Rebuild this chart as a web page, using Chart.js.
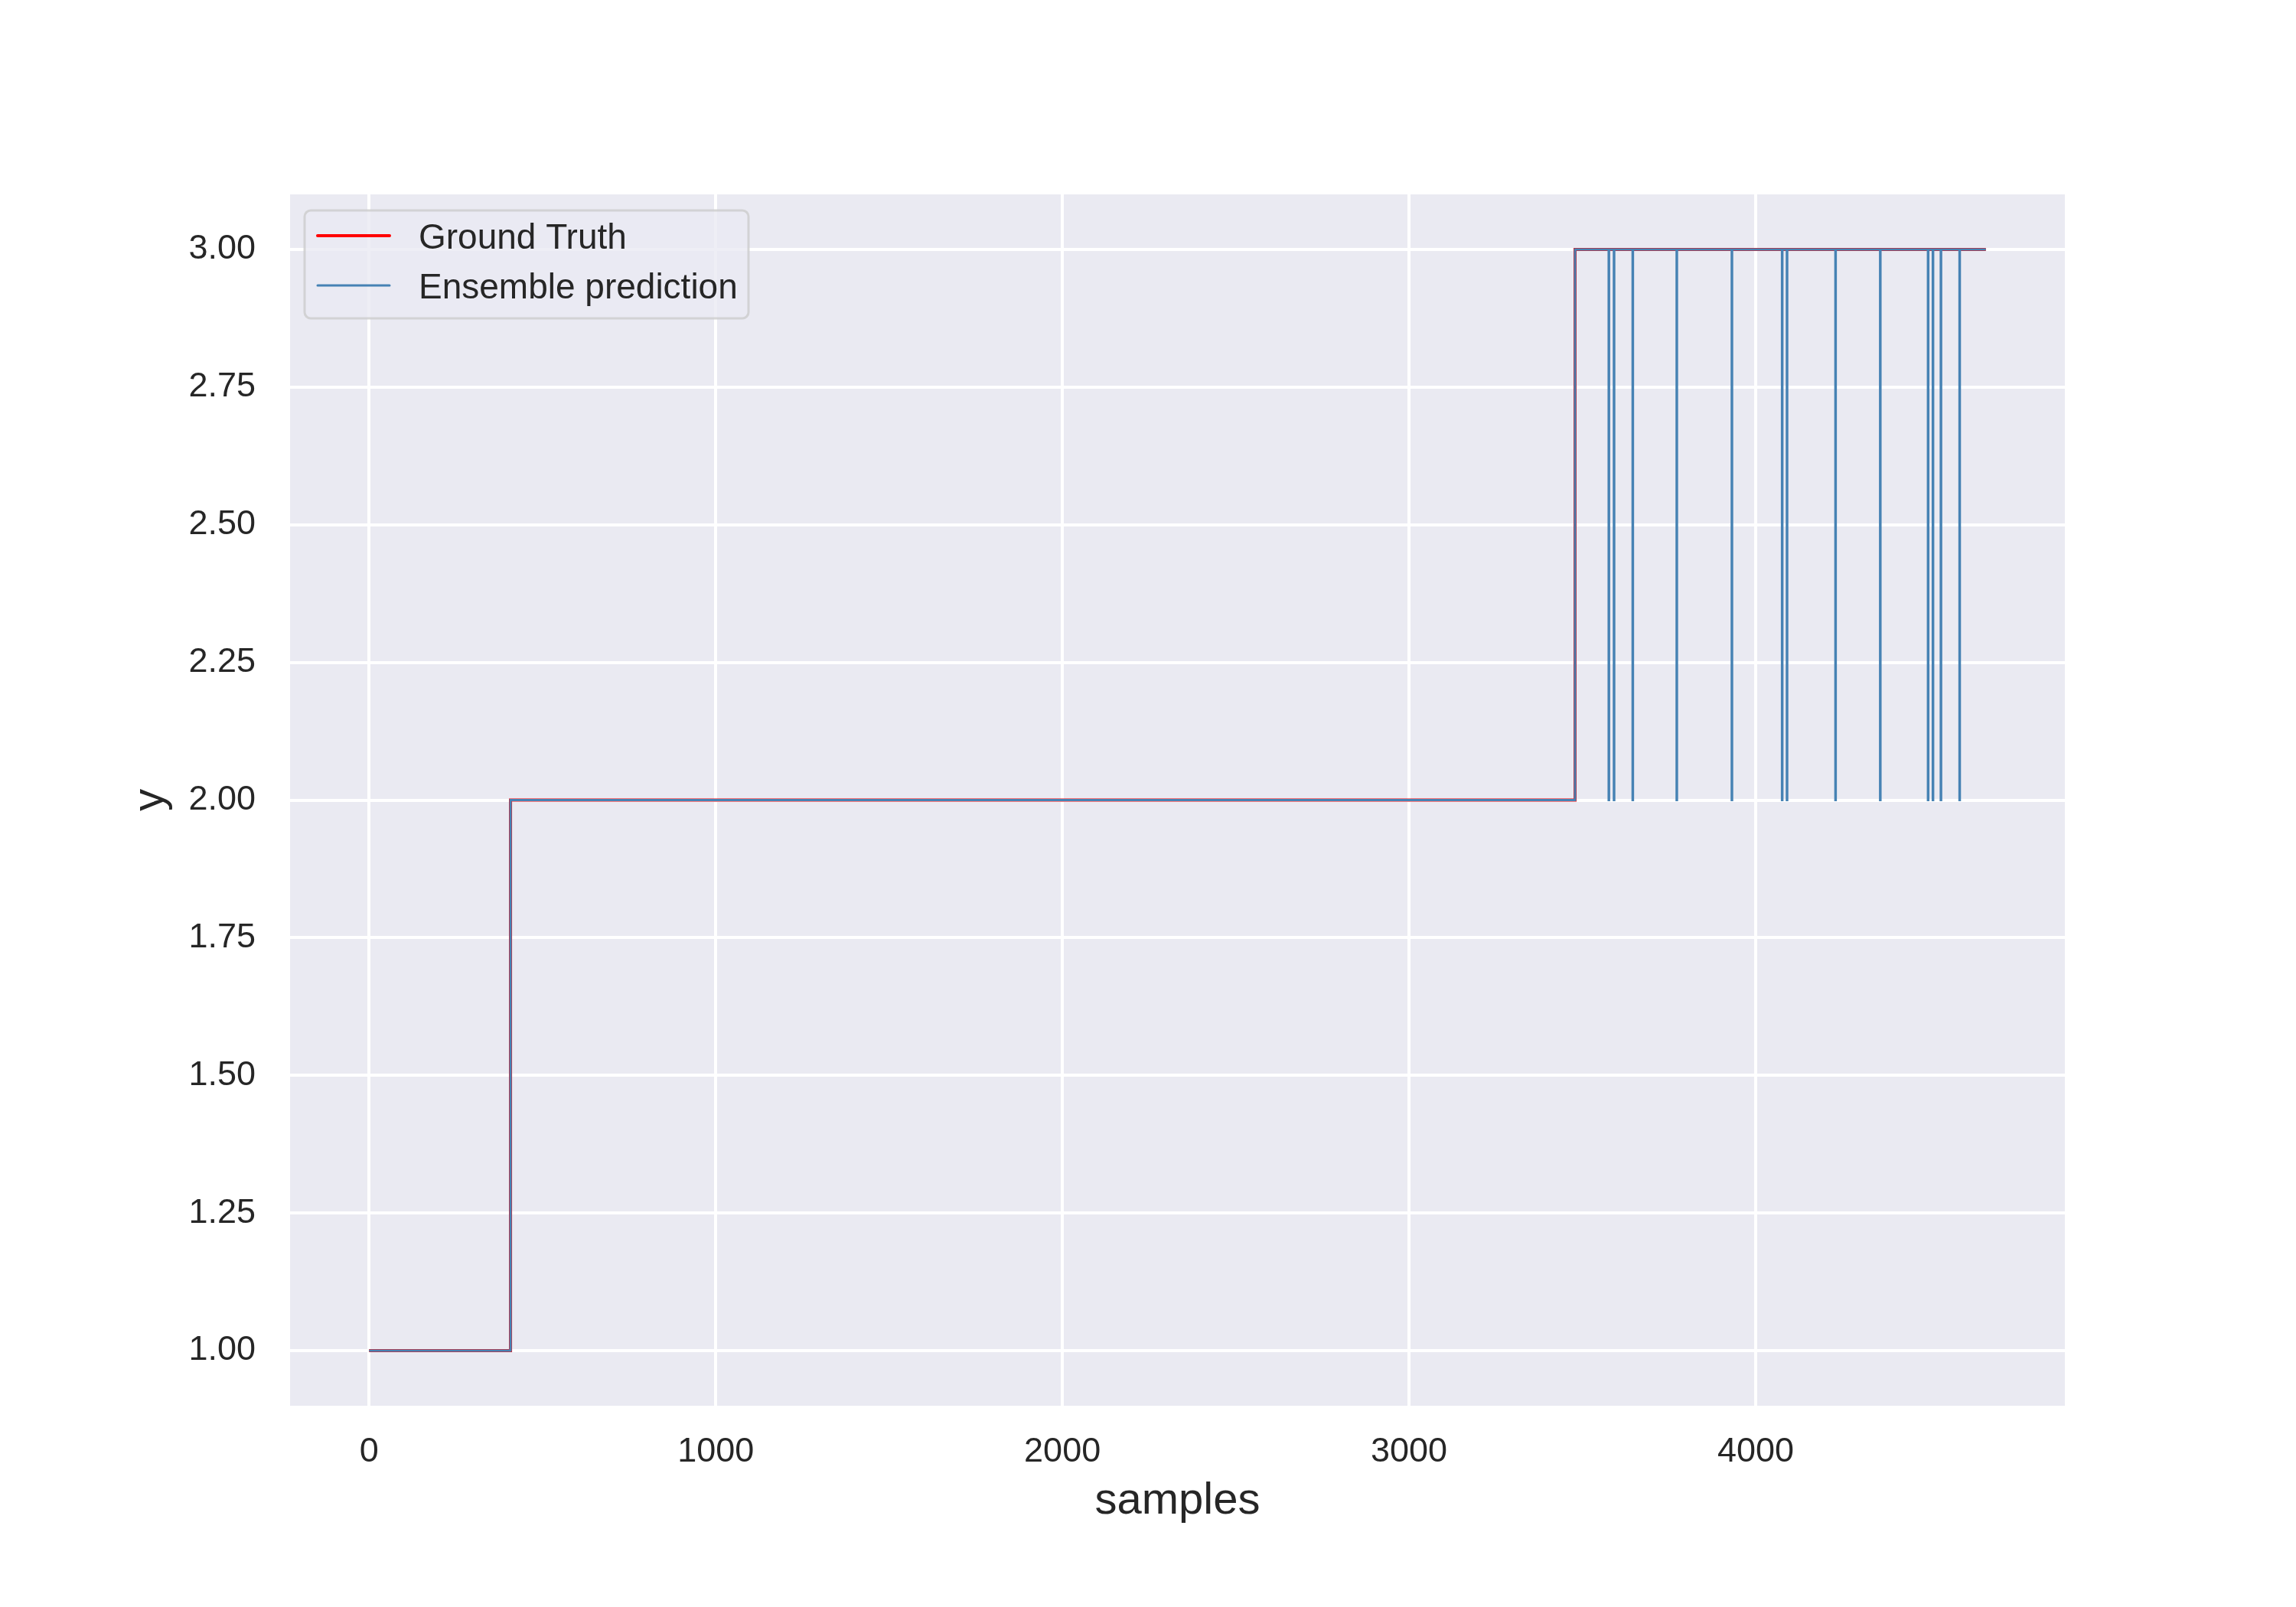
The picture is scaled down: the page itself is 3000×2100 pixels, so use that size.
<!DOCTYPE html>
<html>
<head>
<meta charset="utf-8">
<title>Ground Truth vs Ensemble prediction</title>
<script src="https://cdn.jsdelivr.net/npm/chart.js@4.4.1/dist/chart.umd.min.js"></script>
<style>
    html, body { margin: 0; padding: 0; background: #ffffff; }
    #chart { display: block; }
</style>
</head>
<body>
<canvas id="chart" width="3000" height="2100"></canvas>
<script>
// Ground truth: sample index where each level starts, plus the last sample
const gtSamples = [0, 408, 3479, 4664];
const gtLevels = [1, 2, 3, 3];

// Ensemble prediction follows the ground truth but drops to 2 at these samples
const dipSamples = [3576, 3591, 3645, 3772, 3931, 4076, 4090, 4230, 4359, 4497, 4511, 4534, 4588];
const dipLevel = 2;

// Axis ticks and range
const xTicks = [0, 1000, 2000, 3000, 4000];
const yTicks = [1.00, 1.25, 1.50, 1.75, 2.00, 2.25, 2.50, 2.75, 3.00];
const xRange = [-228, 4892];
const yRange = [0.9, 3.1];

const seriesLabels = ['Ground Truth', 'Ensemble prediction'];

const textColor = '#262626';
const fontFamily = "'Liberation Sans', Arial, sans-serif";

// ground truth points
const gtPoints = gtSamples.map((x, i) => ({ x: x, y: gtLevels[i] }));

// prediction points: the ground truth with single-sample dips inserted
const predPoints = [];
gtSamples.forEach(function(x, i) {
    if (i === gtSamples.length - 1) {
        dipSamples.forEach(function(d) {
            predPoints.push({ x: d, y: dipLevel });
            predPoints.push({ x: d + 1, y: gtLevels[i] });
        });
    }
    predPoints.push({ x: x, y: gtLevels[i] });
});

// grey plot background
const plotBackground = {
    id: 'plotBackground',
    beforeDraw(chart) {
        const a = chart.chartArea;
        const ctx = chart.ctx;
        ctx.save();
        ctx.fillStyle = '#EAEAF2';
        ctx.fillRect(a.left, a.top, a.right - a.left, a.bottom - a.top);
        ctx.restore();
    }
};

// matplotlib style legend box in the upper left corner
function roundRect(ctx, x, y, w, h, r) {
    ctx.beginPath();
    ctx.moveTo(x + r, y);
    ctx.lineTo(x + w - r, y);
    ctx.arcTo(x + w, y, x + w, y + r, r);
    ctx.lineTo(x + w, y + h - r);
    ctx.arcTo(x + w, y + h, x + w - r, y + h, r);
    ctx.lineTo(x + r, y + h);
    ctx.arcTo(x, y + h, x, y + h - r, r);
    ctx.lineTo(x, y + r);
    ctx.arcTo(x, y, x + r, y, r);
    ctx.closePath();
}

const boxLegend = {
    id: 'boxLegend',
    afterDatasetsDraw(chart) {
        const ctx = chart.ctx;
        const a = chart.chartArea;
        const left = a.left + 19;
        const top = a.top + 21;
        ctx.save();
        roundRect(ctx, left, top, 580, 141, 8);
        ctx.fillStyle = 'rgba(234, 234, 242, 0.8)';
        ctx.fill();
        ctx.lineWidth = 3;
        ctx.strokeStyle = 'rgba(204, 204, 204, 0.8)';
        ctx.stroke();

        ctx.font = '46px ' + fontFamily;
        ctx.textBaseline = 'alphabetic';
        ctx.textAlign = 'left';
        chart.data.datasets.forEach(function(ds, i) {
            const y = top + 33 + i * 65;
            ctx.beginPath();
            ctx.lineCap = 'round';
            ctx.lineWidth = ds.borderWidth;
            ctx.strokeStyle = ds.borderColor;
            ctx.moveTo(left + 17, y);
            ctx.lineTo(left + 111, y);
            ctx.stroke();
            ctx.fillStyle = textColor;
            ctx.fillText(ds.label, left + 149, y + 17);
        });
        ctx.restore();
    }
};

const ctx = document.getElementById('chart');
new Chart(ctx, {
    type: 'line',
    data: {
        datasets: [{
            label: seriesLabels[0],
            data: gtPoints,
            borderColor: '#FF0000',
            borderWidth: 4,
            stepped: true,
            pointRadius: 0,
            fill: false,
            order: 2
        }, {
            label: seriesLabels[1],
            data: predPoints,
            borderColor: '#4682B4',
            borderWidth: 3,
            stepped: true,
            pointRadius: 0,
            fill: false,
            order: 1
        }]
    },
    options: {
        responsive: false,
        animation: false,
        devicePixelRatio: 1,
        parsing: false,
        normalized: true,
        layout: {
            padding: { top: 254, right: 302, bottom: 0, left: 0 }
        },
        plugins: {
            legend: { display: false },
            tooltip: { enabled: false },
            title: { display: false }
        },
        scales: {
            x: {
                type: 'linear',
                min: xRange[0],
                max: xRange[1],
                afterBuildTicks: function(scale) {
                    scale.ticks = xTicks.map(v => ({ value: v }));
                },
                afterFit: function(scale) { scale.height = 263; },
                grid: { color: '#FFFFFF', lineWidth: 4, drawTicks: false },
                border: { display: false },
                ticks: {
                    color: textColor,
                    padding: 34,
                    maxRotation: 0,
                    font: { family: fontFamily, size: 45 },
                    callback: v => String(v)
                },
                title: {
                    display: true,
                    text: 'samples',
                    color: textColor,
                    font: { family: fontFamily, size: 58 },
                    padding: { top: 0, bottom: 103 }
                }
            },
            y: {
                type: 'linear',
                min: yRange[0],
                max: yRange[1],
                afterBuildTicks: function(scale) {
                    scale.ticks = yTicks.map(v => ({ value: v }));
                },
                afterFit: function(scale) { scale.width = 379; },
                grid: { color: '#FFFFFF', lineWidth: 4, drawTicks: false },
                border: { display: false },
                ticks: {
                    color: textColor,
                    padding: 45,
                    font: { family: fontFamily, size: 45 },
                    callback: v => Number(v).toFixed(2)
                },
                title: {
                    display: true,
                    text: 'y',
                    color: textColor,
                    font: { family: fontFamily, size: 58 },
                    padding: { top: 162, bottom: 0 }
                }
            }
        }
    },
    plugins: [plotBackground, boxLegend]
});
</script>
</body>
</html>
